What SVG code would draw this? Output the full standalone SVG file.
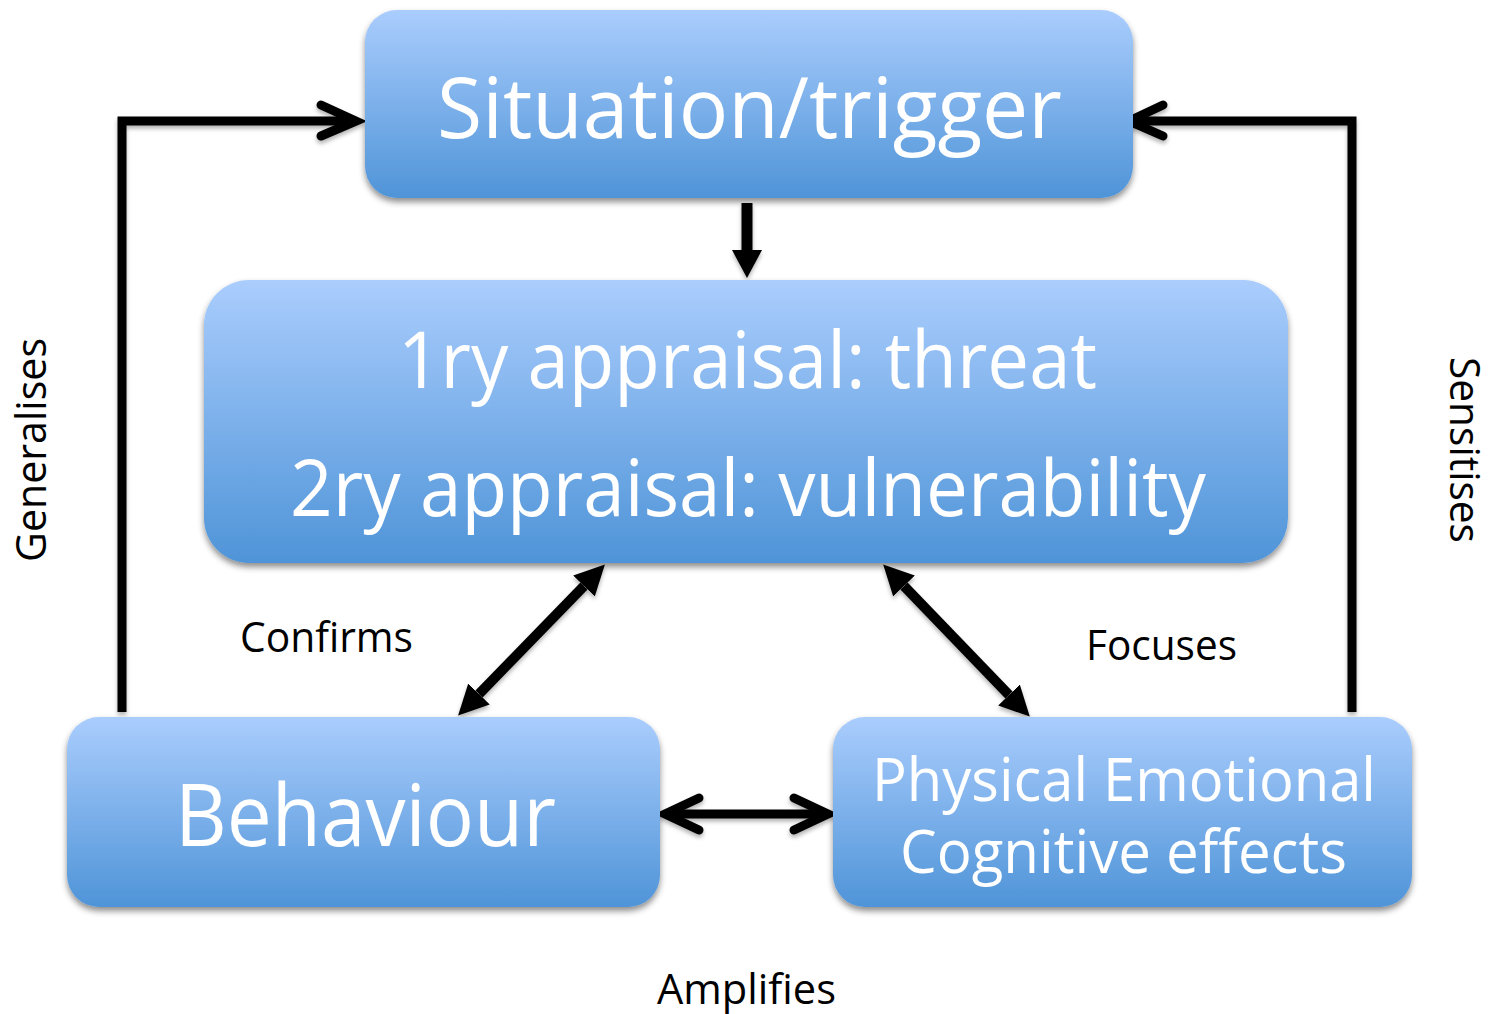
<svg xmlns="http://www.w3.org/2000/svg" width="1489" height="1014" viewBox="0 0 1489 1014">
<defs>
<linearGradient id="g" x1="0" y1="0" x2="0" y2="1">
<stop offset="0" stop-color="#aacdfd"/>
<stop offset="1" stop-color="#4f94d8"/>
</linearGradient>
<filter id="sh" x="-10%" y="-10%" width="120%" height="130%">
<feDropShadow dx="0" dy="4" stdDeviation="3" flood-color="#000" flood-opacity="0.45"/>
</filter>
<filter id="ash" x="-20%" y="-20%" width="140%" height="140%">
<feDropShadow dx="0" dy="3" stdDeviation="2" flood-color="#000" flood-opacity="0.3"/>
</filter>
<marker id="tri" viewBox="0 0 10 10" refX="0" refY="5" markerWidth="3" markerHeight="3" orient="auto-start-reverse" markerUnits="strokeWidth">
<path d="M0,0 L10,5 L0,10 z" fill="#000"/>
</marker>
</defs>
<style>
.box{fill:url(#g);filter:url(#sh)}
.t{font-family:"Open Sans","Noto Sans",sans-serif;fill:#fff}
.l{font-family:"Open Sans","Noto Sans",sans-serif;fill:#000;font-size:42px}
.ln{fill:none;stroke:#000;stroke-width:9}
.ch{fill:none;stroke:#000;stroke-width:9;stroke-linecap:round;stroke-linejoin:miter}
</style>
<g id="connectors" filter="url(#ash)">
<polyline class="ln" points="122,712 122,121 352,121" stroke-linejoin="miter"/>
<polyline class="ch" points="321,105 356,121 321,136"/>
<polyline class="ln" points="1352,712 1352,121 1132,121" stroke-linejoin="miter"/>
<polyline class="ch" points="1163,105 1129,121 1163,136"/>
<line class="ln" x1="667" y1="814" x2="826" y2="814"/>
<polyline class="ch" points="699,798 665,814 699,830"/>
<polyline class="ch" points="794,798 828,814 794,830"/>
<polygon points="741.5,203 752.5,203 752.5,250 762,250 747,278 732,250 741.5,250" fill="#000"/>
<line x1="584" y1="586" x2="479" y2="694" stroke="#000" stroke-width="10" marker-start="url(#tri)" marker-end="url(#tri)"/>
<line x1="904" y1="586" x2="1009" y2="695" stroke="#000" stroke-width="10" marker-start="url(#tri)" marker-end="url(#tri)"/>
</g>
<g id="situation">
<rect class="box" x="365" y="10" width="768" height="188" rx="32"/>
<text class="t" x="437" y="138" font-size="85" textLength="625" lengthAdjust="spacingAndGlyphs">Situation/trigger</text>
</g>
<g id="appraisal">
<rect class="box" x="204" y="280" width="1084" height="283" rx="45"/>
<text class="t" x="398" y="388" font-size="78" textLength="699" lengthAdjust="spacingAndGlyphs">1ry appraisal: threat</text>
<text class="t" x="290" y="516" font-size="78" textLength="916" lengthAdjust="spacingAndGlyphs">2ry appraisal: vulnerability</text>
</g>
<g id="behaviour">
<rect class="box" x="67" y="717" width="593" height="190" rx="32"/>
<text class="t" x="175" y="846" font-size="86" textLength="381" lengthAdjust="spacingAndGlyphs">Behaviour</text>
</g>
<g id="effects">
<rect class="box" x="833" y="717" width="579" height="190" rx="32"/>
<text class="t" x="872" y="801" font-size="60" textLength="504" lengthAdjust="spacingAndGlyphs">Physical Emotional</text>
<text class="t" x="900" y="873" font-size="60" textLength="447" lengthAdjust="spacingAndGlyphs">Cognitive effects</text>
</g>
<g id="labels">
<text class="l" x="240" y="652" textLength="173" lengthAdjust="spacingAndGlyphs">Confirms</text>
<text class="l" x="1086" y="660" textLength="151" lengthAdjust="spacingAndGlyphs">Focuses</text>
<text class="l" x="657" y="1004" textLength="179" lengthAdjust="spacingAndGlyphs">Amplifies</text>
<text class="l" transform="translate(46,562) rotate(-90)" textLength="224" lengthAdjust="spacingAndGlyphs">Generalises</text>
<text class="l" transform="translate(1450,357) rotate(90)" textLength="186" lengthAdjust="spacingAndGlyphs">Sensitises</text>
</g>
</svg>
